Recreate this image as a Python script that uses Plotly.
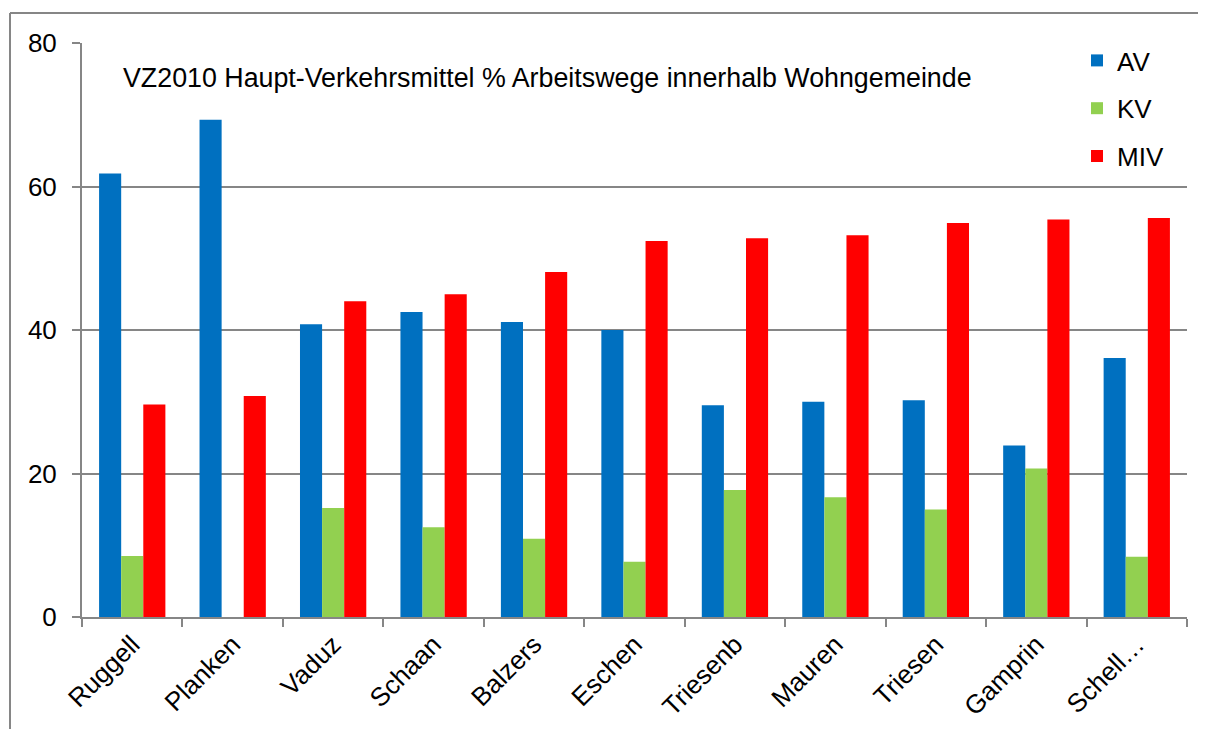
import plotly.graph_objects as go

categories = ["Ruggell", "Planken", "Vaduz", "Schaan", "Balzers", "Eschen",
              "Triesenb", "Mauren", "Triesen", "Gamprin", "Schell…"]
av = [61.8, 69.3, 40.8, 42.5, 41.1, 40.0, 29.5, 30.0, 30.2, 23.9, 36.1]
kv = [8.5, 0.0, 15.2, 12.5, 10.9, 7.7, 17.7, 16.7, 15.0, 20.7, 8.4]
miv = [29.6, 30.8, 44.0, 45.0, 48.1, 52.4, 52.8, 53.2, 54.9, 55.4, 55.6]
series_names = ["AV", "KV", "MIV"]
colors = ["#0070C0", "#92D050", "#FF0000"]
title_text = "VZ2010 Haupt-Verkehrsmittel % Arbeitswege innerhalb Wohngemeinde"

FONT = "Liberation Sans, Arial, sans-serif"
OFF = 8  # page body margin
W, H = 1206 - OFF, 729 - OFF
PL, PR, PT, PB = 82, 1187, 43, 617  # plot area in page pixels
L, T = PL - OFF, PT - OFF
R = W - (PR - OFF)
B = H - (PB - OFF)
pw, ph = PR - PL, PB - PT

fig = go.Figure()
for name, vals, col in zip(series_names, [av, kv, miv], colors):
    fig.add_trace(go.Bar(name=name, x=categories, y=vals, marker_color=col,
                         marker_line_width=0, legendgroup=name))

def px_x(p):
    return (p - PL) / pw

def px_y(p):
    return (PB - p) / ph

fig.update_layout(
    width=W, height=H,
    margin=dict(l=L, r=R, t=T, b=B, autoexpand=False),
    paper_bgcolor="white", plot_bgcolor="white",
    font=dict(family=FONT, size=26, color="black"),
    barmode="group", bargap=0.34, bargroupgap=0,
    showlegend=True,
    legend=dict(x=px_x(1077), y=px_y(37), xanchor="left", yanchor="top",
                bgcolor="white", font=dict(size=26), tracegroupgap=11,
                itemwidth=30),
    xaxis=dict(showgrid=False, showline=True, linecolor="#868686", linewidth=2,
               ticks="outside", ticklen=8, tickcolor="#868686", tickwidth=2,
               tickson="boundaries", tickangle=-45, tickfont=dict(size=26)),
    yaxis=dict(range=[0, 80], dtick=20, showgrid=True, gridcolor="#868686",
               gridwidth=1.5, showline=True, linecolor="#868686", linewidth=2,
               ticks="outside", ticklen=8, tickcolor="#868686", tickwidth=2,
               zeroline=False, tickfont=dict(size=26), ticklabelstandoff=10),
    annotations=[dict(text=title_text, xref="paper", yref="paper",
                      x=px_x(121), y=px_y(78), xanchor="left", yanchor="middle",
                      showarrow=False, font=dict(size=26.8, color="black"))],
    shapes=[
        dict(type="line", xref="paper", yref="paper", x0=px_x(10), x1=px_x(1215),
             y0=px_y(13), y1=px_y(13), line=dict(color="#868686", width=2)),
        dict(type="line", xref="paper", yref="paper", x0=px_x(10), x1=px_x(10),
             y0=px_y(13), y1=px_y(740), line=dict(color="#868686", width=2)),
    ],
)

fig.write_html("out.html")
